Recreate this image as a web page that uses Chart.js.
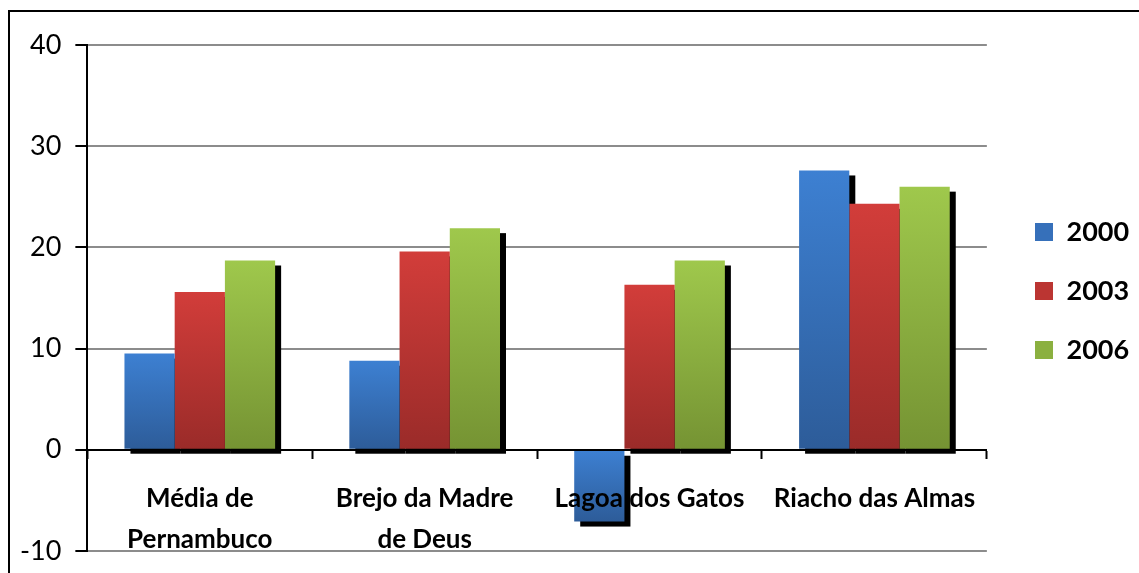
<!DOCTYPE html>
<html>
<head>
<meta charset="utf-8">
<script src="https://cdn.jsdelivr.net/npm/chart.js@4/dist/chart.umd.min.js"></script>
<style>
  html, body { margin: 0; padding: 0; background: #fff; overflow: hidden; }
  #wrap { position: relative; width: 1139px; height: 573px; }
  #frame { position: absolute; left: 8px; top: 10px; width: 1200px; height: 700px; border: 2px solid #000; box-sizing: border-box; }
  canvas { position: absolute; left: 0; top: 0; }
</style>
</head>
<body>
<div id="wrap">
  <div id="frame"></div>
  <canvas id="c" width="1139" height="573"></canvas>
</div>
<script>
'use strict';
// ─── Data ─────────────────────────────────────────────────────────────────────
const categories = [['Média de', 'Pernambuco'], ['Brejo da Madre', 'de Deus'], 'Lagoa dos Gatos', 'Riacho das Almas'];
const years = ['2000', '2003', '2006'];
const v2000 = [9.5, 8.8, -7.1, 27.6];
const v2003 = [15.6, 19.6, 16.3, 24.3];
const v2006 = [18.7, 21.9, 18.7, 26.0];
const yTicks = [-10, 0, 10, 20, 30, 40];

// top / bottom colours of each bar gradient
const tops = ['#3d80d2', '#d23d3a', '#9fc84c'];
const bots = ['#2d5c99', '#9a2b29', '#759333'];
const mids = ['#3670ba', '#bb3532', '#8bb040'];

const FONT = 'Lato, "Open Sans", sans-serif';

const grad = i => ctx => {
  const ch = ctx.chart, y = ch.scales.y;
  if (ctx.type !== 'data' || !y || !ch.chartArea || !ctx.parsed) return mids[i];
  const v = ctx.parsed.y;
  const a = y.getPixelForValue(Math.max(v, 0)), b = y.getPixelForValue(Math.min(v, 0));
  if (!isFinite(a) || !isFinite(b) || a === b) return mids[i];
  const g = ch.ctx.createLinearGradient(0, a, 0, b);
  g.addColorStop(0, tops[i]);
  g.addColorStop(1, bots[i]);
  return g;
};

// ─── Black offset shadow, drawn under every bar ───────────────────────────────
const barShadow = {
  id: 'barShadow',
  beforeDatasetsDraw: ch => {
    const c = ch.ctx;
    c.save();
    c.fillStyle = '#000';
    ch.getSortedVisibleDatasetMetas().forEach(m => m.data.forEach(el => {
      const p = el.getProps(['x', 'y', 'base', 'width'], true);
      c.fillRect(p.x - p.width / 2 + 6, Math.min(p.y, p.base) + 5, p.width, Math.abs(p.base - p.y));
    }));
    c.restore();
  }
};

// nudge the legend to where it sits in the original
const legendSpot = {
  id: 'legendSpot',
  afterLayout: ch => {
    const L = ch.legend;
    if (!L) return;
    const dx = 1003 - L.left, dy = -11;
    L.left += dx; L.right += dx; L.top += dy; L.bottom += dy;
  }
};

const series = [v2000, v2003, v2006];

new Chart(document.getElementById('c').getContext('2d'), {
  type: 'bar',
  data: {
    labels: categories,
    datasets: series.map((d, i) => ({
      label: years[i], data: d, backgroundColor: grad(i), borderWidth: 0,
      categoryPercentage: 0.67, barPercentage: 1
    }))
  },
  options: {
    responsive: false, animation: false, devicePixelRatio: 1,
    layout: { padding: { left: 6, top: 45, bottom: 14, right: 16 } },
    scales: {
      x: {
        position: { y: 0 },
        grid: { drawOnChartArea: false, offset: true, tickLength: 8, tickColor: '#000', tickWidth: 2, z: 1 },
        border: { color: '#000', width: 2, z: 1 },
        ticks: { z: 1, color: '#000', font: { family: FONT, size: 26, weight: 'bold', lineHeight: 1.58 }, padding: 20, maxRotation: 0, autoSkip: false }
      },
      y: {
        min: -10, max: 40,
        afterBuildTicks: s => { s.ticks = yTicks.map(v => ({ value: v })); },
        grid: { color: '#8c8c8c', lineWidth: 2, tickLength: 12, tickColor: '#000', tickWidth: 2 },
        border: { color: '#000', width: 2 },
        ticks: { color: '#000', font: { family: FONT, size: 27, lineHeight: 0.6 }, padding: 14 }
      }
    },
    plugins: {
      legend: {
        position: 'right',
        labels: {
          boxWidth: 18, boxHeight: 18, padding: 32, color: '#000',
          font: { family: FONT, size: 27, weight: 'bold' },
          generateLabels: ch => ch.data.datasets.map((d, i) => ({
            text: d.label, fillStyle: mids[i], strokeStyle: mids[i], lineWidth: 0, datasetIndex: i, hidden: false
          }))
        }
      },
      tooltip: { enabled: false }
    }
  },
  plugins: [barShadow, legendSpot]
});
</script>
</body>
</html>
